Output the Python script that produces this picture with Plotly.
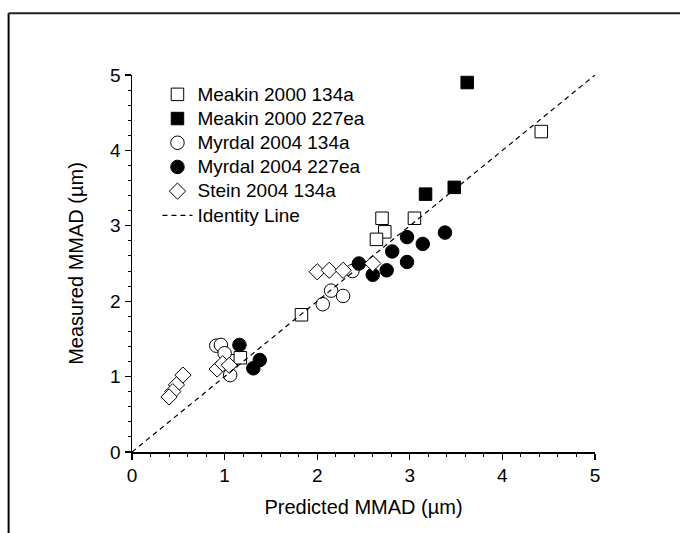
import plotly.graph_objects as go

# ---- data ----
meakin134_x = [4.42, 2.70, 3.05, 2.73, 2.64, 1.83, 1.07, 1.17]
meakin134_y = [4.25, 3.10, 3.10, 2.92, 2.82, 1.82, 1.21, 1.25]

meakin227_x = [3.62, 3.17, 3.48]
meakin227_y = [4.90, 3.42, 3.51]

myrdal134_x = [0.91, 0.96, 1.00, 1.06, 2.06, 2.15, 2.28, 2.38]
myrdal134_y = [1.41, 1.42, 1.31, 1.02, 1.96, 2.14, 2.07, 2.40]

myrdal227_x = [1.16, 1.31, 1.38, 2.45, 2.60, 2.75, 2.81, 2.97, 2.97, 3.14, 3.38]
myrdal227_y = [1.42, 1.11, 1.22, 2.50, 2.35, 2.41, 2.66, 2.85, 2.52, 2.76, 2.91]

stein134_x = [0.55, 0.48, 0.44, 0.40, 0.92, 0.98, 1.05, 2.00, 2.13, 2.28, 2.60]
stein134_y = [1.02, 0.89, 0.80, 0.73, 1.10, 1.17, 1.15, 2.39, 2.41, 2.41, 2.50]

identity_x = [0, 5]
identity_y = [0, 5]

series_names = ["Meakin 2000 134a", "Meakin 2000 227ea", "Myrdal 2004 134a",
                "Myrdal 2004 227ea", "Stein 2004 134a", "Identity Line"]

FONT = "Liberation Sans, Arial, sans-serif"


def lname(s):
    return '<span style="font-size:19px">' + s + '</span>'


fig = go.Figure()

specs = [
    (meakin134_x, meakin134_y, "square", "white", 12.5),
    (meakin227_x, meakin227_y, "square", "black", 12.5),
    (myrdal134_x, myrdal134_y, "circle", "white", 13.5),
    (myrdal227_x, myrdal227_y, "circle", "black", 13.5),
    (stein134_x, stein134_y, "diamond", "white", 12.5),
]
for (xs, ys, sym, fill, sz), nm in zip(specs, series_names):
    fig.add_trace(go.Scatter(
        x=xs, y=ys, mode="markers", name=lname(nm),
        marker=dict(symbol=sym, size=sz, color=fill,
                    line=dict(color="black", width=1)),
    ))

fig.add_trace(go.Scatter(
    x=identity_x, y=identity_y, mode="lines", name=lname(series_names[5]),
    line=dict(color="black", width=1.2, dash="5px,4px"),
))

axis_common = dict(
    range=[0, 5], dtick=1, showgrid=False, zeroline=False,
    showline=True, linecolor="black", linewidth=1.5,
    ticks="outside", ticklen=6, tickwidth=1.3, tickcolor="black",
    minor=dict(dtick=0.2, ticks="outside", ticklen=3, tickwidth=1,
               tickcolor="black"),
    tickfont=dict(family=FONT, size=19, color="black"),
    fixedrange=True,
)

fig.update_layout(
    width=680, height=533,
    margin=dict(l=132, r=84.5, t=75, b=81),
    paper_bgcolor="white", plot_bgcolor="white",
    font=dict(family=FONT, color="black"),
    xaxis=dict(**axis_common,
               title=dict(text="Predicted MMAD (µm)",
                          font=dict(family=FONT, size=20, color="black"),
                          standoff=14)),
    yaxis=dict(**axis_common,
               title=dict(text="Measured MMAD (µm)",
                          font=dict(family=FONT, size=20, color="black"),
                          standoff=21)),
    legend=dict(x=0.055, y=0.994, xanchor="left", yanchor="top",
                bgcolor="rgba(0,0,0,0)", borderwidth=0,
                font=dict(family=FONT, size=16.3, color="black")),
    showlegend=True,
    hovermode=False,
    shapes=[
        dict(type="line", xref="paper", yref="paper",
             x0=-0.2665, x1=-0.2665, y0=1.164, y1=-0.25,
             line=dict(color="black", width=2)),
        dict(type="line", xref="paper", yref="paper",
             x0=-0.2665, x1=1.25, y0=1.164, y1=1.164,
             line=dict(color="#222222", width=2)),
    ],
)

fig.write_html(
    "out.html",
    config={"displayModeBar": False, "staticPlot": True},
    post_script="document.body.style.margin='0';document.body.style.overflow='hidden';",
)
